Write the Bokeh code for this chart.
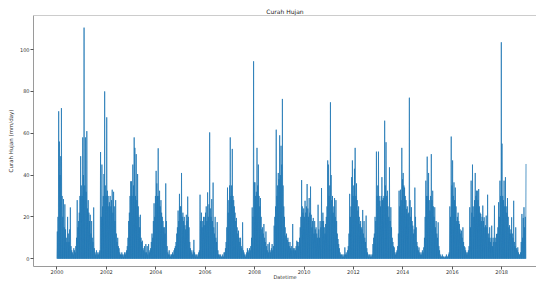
from bokeh.plotting import figure
from bokeh.models import Range1d, FixedTicker, Span
from bokeh.embed import file_html
from bokeh.resources import INLINE

# ---- data: dekad (10-day) peak rainfall, mm/day ----
years = list(range(2000, 2019))
dry_day = 0.0  # rain-free day recorded between peaks

rain_2000 = [13, 20, 70.5, 56, 40, 49, 72, 30, 20, 28.5, 15, 26, 14, 10, 8, 20, 12, 8,
             14, 24.5, 6, 4, 3, 2, 5, 4, 3, 6, 10, 28, 15, 18, 22, 30, 49, 35]
rain_2001 = [30, 58, 40, 110.5, 35, 58, 32, 61, 24, 28, 22, 18, 21, 12, 18, 10, 8, 24.5,
             5, 3, 2, 4, 2, 3, 2, 3, 4, 51, 20, 45, 25, 30, 40.5, 80, 35, 30]
rain_2002 = [67.6, 32.5, 30, 25, 27, 30, 25, 28, 33, 22, 32, 25, 18, 28, 12, 8, 10, 6,
             5, 3, 2, 2, 3, 2, 1, 2, 3, 2, 3, 4, 6, 10, 18, 22, 30, 37]
rain_2003 = [37, 30, 45, 35, 58, 53, 30, 50, 28, 40.5, 25, 20, 15, 21, 10, 8, 8.6, 5,
             4, 6, 3, 7, 3, 6, 2, 7, 3, 4, 5, 8, 12, 10, 18, 26.5, 20, 30]
rain_2004 = [42, 36, 30, 52.8, 30, 32.5, 25, 28, 22, 20, 18, 15, 15, 12, 36, 18, 6, 3,
             2, 4, 2, 1, 2, 2, 3, 2, 4, 5, 6, 8, 12, 15, 23, 18, 31, 25]
rain_2005 = [25, 41, 20, 22, 18, 20, 16, 14, 21, 18, 29.7, 20, 15, 8, 5, 4, 3, 2,
             4, 9, 3, 2, 1, 2, 1, 2, 3, 4, 30.6, 18, 22, 15, 18, 20, 16, 20]
rain_2006 = [22, 25, 18, 31.7, 20, 26, 60.4, 24, 20, 28.5, 18, 36.4, 15, 12, 20, 10, 8, 17.5,
             4, 2, 2, 1, 2, 1, 1, 2, 1, 3, 3, 5, 8, 15, 34, 22, 28, 35]
rain_2007 = [58, 30, 35, 52.5, 30, 28, 25, 22, 18, 19.5, 15, 12, 13.4, 10, 8, 10, 6, 5,
             17.4, 4, 3, 2, 1, 2, 3, 5, 4, 3, 5, 4, 6, 10, 24.5, 20, 94.4, 36.5]
rain_2008 = [36.5, 30, 32, 53, 35, 45, 30, 25, 29, 20, 14, 15, 12, 16.6, 10, 8, 13, 6,
             4, 7, 3, 7.8, 4, 3, 5, 7, 4, 6, 15.8, 20, 25, 61.7, 30, 35, 41, 38]
rain_2009 = [59, 40, 54, 45, 76.4, 35, 25, 20, 15, 11, 12, 9, 10, 8, 6, 8, 5, 6,
             4, 16.6, 5, 4, 5, 4, 6, 8.6, 8, 6, 8, 10, 15, 20, 37.6, 25, 22, 24]
rain_2010 = [20, 27.7, 22, 25, 35.7, 24, 20, 29, 22, 34.5, 21, 15, 18, 19.5, 12, 18, 14, 15,
             12, 10, 25.8, 14, 10, 18, 15, 33.8, 18, 22, 18, 15, 12, 16.6, 20, 25, 47, 45]
rain_2011 = [30, 35, 74.8, 40, 28, 30, 22, 25, 29, 20, 28, 18, 12, 9.4, 7, 5, 3, 2,
             2, 1, 2, 1, 2, 5.4, 2, 3, 2, 4, 6, 12, 31, 20, 25, 39, 47, 30]
rain_2012 = [35, 43, 53, 30, 36, 28, 23, 25, 20, 16.6, 18, 15, 14, 23.3, 12, 18, 10, 8,
             20.6, 5, 3, 2, 1, 2, 1, 2, 1, 2, 7, 10, 12, 20, 18, 51.2, 30, 35]
rain_2013 = [51.2, 30, 27.7, 25, 30, 39, 28, 29, 30, 66, 35, 55.7, 30, 32.5, 25, 20, 43.7, 18,
             24.6, 15, 10, 8, 6, 5.4, 3, 2, 3, 4, 6, 12, 32.5, 25, 33, 28, 53, 38]
rain_2014 = [41, 35, 34, 30, 28, 23.8, 25, 21.4, 22, 77, 28, 20, 24.6, 18, 15.8, 12, 14, 34,
             20, 15, 8, 6, 4, 5.4, 3, 2, 3, 2, 4, 3, 5.4, 10, 20, 37.3, 30, 48.8]
rain_2015 = [30, 41, 28, 23, 30, 50, 28, 32.5, 25, 20, 24.6, 15, 18, 12, 10, 17.4, 6, 4,
             2, 1, 1, 2, 1, 1, 0.5, 1, 1, 2, 1, 1, 2, 3, 25, 20, 58.4, 35]
rain_2016 = [47, 30, 36.5, 28, 34, 25, 18, 20, 22, 18, 16.6, 14, 12, 13.4, 10, 15, 8, 6,
             5.4, 4, 3, 2, 3, 4, 6, 24.6, 15, 37.3, 22, 45, 25, 20, 28, 41, 30, 32.5]
rain_2017 = [32.5, 28, 33.3, 25, 22, 21.4, 18, 20, 25.4, 18, 19.8, 15, 16, 20.6, 15, 30.6, 12, 10,
             15, 8, 10, 15.8, 6, 10, 8, 25.4, 10, 8, 11.8, 12, 15, 27, 20, 37.3, 30, 103.5]
rain_2018 = [55, 30, 28, 37.3, 25, 39, 25, 22, 29, 20, 15, 16, 12, 14, 19.8, 12, 10, 27.7,
             8, 6, 15, 5, 4, 5.4, 3, 2, 2, 3, 8, 21.4, 10, 19.5, 24.6, 15, 20, 45.3]

yearly = [rain_2000, rain_2001, rain_2002, rain_2003, rain_2004, rain_2005, rain_2006,
          rain_2007, rain_2008, rain_2009, rain_2010, rain_2011, rain_2012, rain_2013,
          rain_2014, rain_2015, rain_2016, rain_2017, rain_2018]

x_ticks = [2000, 2002, 2004, 2006, 2008, 2010, 2012, 2014, 2016, 2018]
x_tick_labels = ["2000", "2002", "2004", "2006", "2008", "2010", "2012", "2014", "2016", "2018"]
y_ticks = [0, 20, 40, 60, 80, 100]

title_text = "Curah Hujan"
y_label = "Curah Hujan (mm/day)"
x_label = "Datetime"

# ---- build the series (each dekad: a dry day then the dekad's peak) ----
xs, ys = [], []
for yr, vals in zip(years, yearly):
    n = len(vals)
    for d, v in enumerate(vals):
        xs.append(yr + d / n)
        ys.append(dry_day)
        xs.append(yr + (d + 0.5) / n)
        ys.append(v)

X0, X1 = 1999.05, 2019.41
Y0, Y1 = -3.73, 116.3

p = figure(width=536, height=282, output_backend="svg", toolbar_location=None,
           x_range=Range1d(X0, X1), y_range=Range1d(Y0, Y1),
           min_border_left=33, min_border_right=0, min_border_top=15, min_border_bottom=13,
           title=title_text)

p.title.align = "center"
p.title.offset = 6
p.title.standoff = 2
p.title.text_font = "DejaVu Sans"
p.title.text_font_size = "6px"
p.title.text_font_style = "normal"
p.title.text_color = "#222222"

p.line(xs, ys, line_color="#1f77b4", line_width=0.75)

spine = "#9a9a9a"
tick_color = "#555555"
font = "DejaVu Sans"

for ax in (p.xaxis[0], p.yaxis[0]):
    ax.axis_line_color = spine
    ax.axis_line_width = 1
    ax.major_tick_line_color = tick_color
    ax.major_tick_out = 3
    ax.major_tick_in = 0
    ax.minor_tick_line_color = None
    ax.major_label_text_font = font
    ax.major_label_text_font_size = "5px"
    ax.major_label_text_color = "#333333"
    ax.major_label_standoff = 1
    ax.axis_label_text_font = font
    ax.axis_label_text_font_style = "normal"
    ax.axis_label_text_color = "#333333"

p.xaxis.ticker = FixedTicker(ticks=x_ticks)
p.xaxis.major_label_overrides = {t: s for t, s in zip(x_ticks, x_tick_labels)}
p.xaxis.major_label_standoff = 0
p.xaxis.axis_label = x_label
p.xaxis.axis_label_text_font_size = "5px"
p.xaxis.axis_label_standoff = -3

p.yaxis.ticker = FixedTicker(ticks=y_ticks)
p.yaxis.axis_label = y_label
p.yaxis.axis_label_text_font_size = "5.5px"
p.yaxis.axis_label_standoff = 3

p.xgrid.visible = False
p.ygrid.visible = False
p.outline_line_color = None
p.add_layout(Span(location=Y1, dimension="width", line_color=spine, line_width=1))

p.background_fill_color = "white"
p.border_fill_color = "white"

open("out.html", "w").write(file_html(p, INLINE))
